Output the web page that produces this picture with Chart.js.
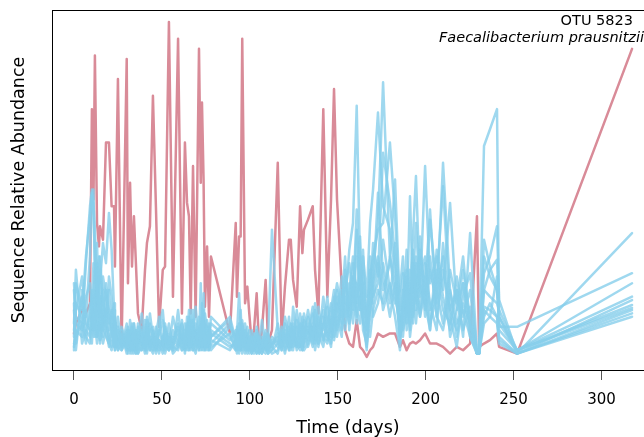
<!DOCTYPE html>
<html>
<head>
<meta charset="utf-8">
<script src="https://cdn.jsdelivr.net/npm/chart.js@4.4.1/dist/chart.umd.min.js"></script>
<style>
  html, body { margin: 0; padding: 0; background: #fff; }
  #wrap { width: 644px; height: 437px; }
</style>
</head>
<body>
<div id="wrap"><canvas id="otuChart" width="644" height="437"></canvas></div>
<script>
// sampling days (shared by all series)
const days = [
  0, 1.1, 4.6, 6.8, 9.1, 10.2, 11.1, 11.9, 13.1, 14.2,
  14.8, 16.5, 18.2, 19.9, 21.4, 22.8, 23.3, 25.0, 27.1, 30.0,
  30.7, 31.9, 33.0, 34.1, 35.3, 36.4, 38.5, 40.4, 41.5, 43.2,
  44.9, 46.6, 48.4, 50.5, 51.8, 54.0, 56.3, 59.2, 61.4, 63.1,
  64.3, 65.4, 66.4, 67.7, 69.2, 71.1, 72.1, 72.8, 73.7, 74.5,
  75.7, 76.8, 77.9, 88.7, 92.0, 92.7, 93.9, 94.8, 95.7, 97.3,
  98.6, 99.7, 101.1, 102.4, 103.9, 105.4, 106.9, 109.0, 110.4, 112.6,
  115.9, 118.1, 120.0, 122.3, 123.3, 124.6, 126.7, 128.6, 129.9, 130.8,
  133.1, 135.8, 137.1, 139.0, 141.8, 144.1, 146.2, 147.9, 149.6, 152.3,
  154.2, 156.6, 158.7, 160.8, 162.7, 164.4, 166.5, 168.4, 170.1, 172.9,
  175.8, 179.7, 182.6, 185.4, 187.1, 189.2, 191.1, 192.8, 194.5, 196.8,
  199.7, 202.5, 206.3, 209.9, 213.9, 217.7, 221.3, 225.3, 229.2, 230.4,
  233.2, 236.6, 240.6, 241.8, 252.0, 317.4
];

// OTU 5823 (Faecalibacterium prausnitzii)
const otu5823 = [
  7, 10, 14, 13, 16, 74, 47, 90, 40, 33,
  39, 35, 64, 64, 45, 45, 27, 83, 4, 89,
  22, 52, 27, 42, 27, 13, 8, 26, 34, 39,
  78, 45, 9, 26, 27, 100, 18, 95, 13, 64,
  46, 42, 13, 57, 12, 92, 52, 76, 53, 15,
  33, 12, 30, 7, 40, 18, 36, 36, 95, 16,
  21, 13, 4, 8, 19, 1.5, 8, 23, 4, 8,
  58, 6, 21, 35, 35, 23, 15, 45, 31, 38,
  41, 45, 26, 13, 74, 18, 47, 80, 47, 21,
  8, 4, 3, 11, 3, 2, 0, 2, 3, 7,
  6, 7, 7, 3, 5, 2, 4, 4.5, 4, 5,
  7, 4, 4, 3, 1, 3, 2, 4, 42, 3,
  4, 5, 7, 3, 1, 92
];

// other OTUs
const other1 = [
  8, 14, 24, 12, 30, 49, 46, 38, 20, 12,
  18, 9, 6, 4, 10, 3, 7, 2, 5, 3,
  8, 4, 2, 10, 5, 1, 6, 3, 9, 4,
  2, 7, 12, 4, 1, 5, 3, 8, 2, 6,
  10, 4, 14, 6, 2, 9, 5, 16, 8, 3,
  7, 4, 12, 6, 3, 8, 2, 5, 10, 4,
  2, 6, 1, 4, 7, 3, 1, 5, 2, 6,
  4, 9, 3, 12, 7, 5, 14, 6, 3, 8,
  10, 5, 14, 7, 3, 12, 8, 16, 22, 14,
  20, 28, 18, 30, 24, 12, 3, 15, 26, 40,
  82, 30, 22, 6, 14, 20, 8, 28, 18, 12,
  24, 10, 18, 30, 6, 14, 22, 10, 1, 1,
  20, 26, 29, 12, 1, 37
];
const other2 = [
  4, 6, 10, 18, 22, 14, 8, 12, 6, 10,
  5, 14, 8, 3, 6, 12, 4, 9, 2, 6,
  3, 11, 5, 2, 8, 4, 13, 6, 2, 10,
  5, 3, 9, 14, 6, 2, 8, 4, 10, 3,
  6, 12, 3, 8, 15, 4, 7, 2, 11, 5,
  3, 9, 6, 11, 4, 1, 7, 14, 3, 6,
  9, 3, 5, 2, 8, 4, 11, 2, 6, 3,
  7, 2, 10, 5, 3, 15, 6, 9, 4, 11,
  5, 13, 7, 4, 18, 9, 14, 20, 12, 24,
  16, 32, 40, 75, 28, 20, 8, 30, 18, 22,
  35, 20, 12, 2, 18, 26, 10, 32, 20, 14,
  28, 16, 8, 34, 12, 3, 18, 25, 1, 1,
  63, 68, 74, 9, 9, 25
];
const other3 = [
  20, 10, 8, 28, 45, 50, 42, 30, 16, 24,
  12, 20, 10, 6, 3, 8, 2, 4, 7, 1,
  5, 2, 7, 3, 1, 9, 4, 2, 6, 3,
  1, 4, 2, 6, 8, 3, 12, 5, 2, 4,
  9, 3, 6, 2, 5, 12, 4, 8, 19, 6,
  3, 10, 5, 2, 5, 3, 6, 2, 8, 1,
  4, 1, 3, 6, 2, 1, 4, 8, 3, 1,
  2, 5, 1, 7, 4, 2, 9, 3, 12, 5,
  8, 3, 16, 10, 6, 4, 11, 6, 14, 20,
  12, 18, 10, 22, 14, 30, 18, 40, 50, 73,
  45, 38, 26, 10, 8, 14, 20, 10, 30, 22,
  16, 30, 12, 8, 20, 10, 14, 6, 1, 1,
  14, 12, 24, 8, 2, 22
];
const other4 = [
  6, 22, 14, 30, 42, 48, 50, 22, 34, 14,
  26, 8, 14, 4, 2, 6, 10, 3, 2, 5,
  2, 6, 3, 1, 4, 7, 2, 5, 11, 2,
  6, 2, 5, 3, 10, 4, 2, 14, 4, 8,
  4, 7, 2, 11, 4, 3, 22, 6, 3, 10,
  5, 2, 8, 4, 2, 6, 10, 4, 3, 8,
  3, 5, 2, 1, 4, 6, 2, 1, 3, 4,
  6, 3, 8, 4, 10, 6, 3, 13, 5, 2,
  4, 9, 5, 12, 8, 15, 6, 10, 18, 12,
  24, 14, 28, 18, 36, 16, 10, 24, 30, 38,
  40, 64, 42, 14, 25, 10, 18, 24, 14, 32,
  20, 8, 26, 14, 10, 20, 8, 15, 1, 1,
  30, 24, 20, 10, 2, 18
];
const other5 = [
  14, 4, 18, 8, 12, 20, 10, 6, 24, 30,
  22, 34, 28, 43, 32, 14, 8, 5, 3, 8,
  4, 2, 6, 10, 3, 2, 8, 4, 1, 6,
  3, 9, 4, 1, 5, 7, 3, 2, 6, 3,
  2, 5, 9, 3, 1, 6, 3, 4, 2, 8,
  11, 6, 3, 7, 2, 4, 8, 3, 1, 4,
  6, 2, 8, 3, 1, 2, 6, 3, 1, 2,
  4, 7, 2, 5, 8, 3, 4, 10, 2, 6,
  14, 6, 10, 4, 12, 7, 3, 14, 8, 18,
  10, 22, 14, 38, 20, 26, 12, 18, 34, 24,
  61, 46, 30, 8, 12, 32, 14, 22, 40, 18,
  57, 22, 30, 18, 8, 24, 12, 20, 1, 1,
  25, 30, 39, 17, 1, 17
];
const other6 = [
  3, 8, 6, 14, 8, 10, 18, 26, 12, 20,
  30, 16, 12, 20, 8, 4, 2, 6, 9, 4,
  9, 3, 1, 5, 8, 3, 2, 7, 4, 13,
  6, 2, 7, 11, 3, 2, 5, 9, 3, 2,
  5, 14, 6, 2, 8, 4, 10, 3, 6, 13,
  8, 3, 2, 9, 6, 2, 4, 8, 5, 3,
  1, 4, 6, 2, 5, 3, 1, 4, 7, 2,
  10, 4, 6, 2, 6, 9, 4, 2, 7, 9,
  3, 8, 4, 15, 5, 10, 16, 8, 12, 6,
  26, 12, 20, 10, 30, 8, 4, 12, 22, 30,
  20, 28, 53, 14, 6, 18, 26, 12, 22, 30,
  12, 26, 16, 58, 20, 6, 16, 10, 1, 1,
  35, 27, 20, 12, 2, 15.5
];
const other7 = [
  10, 26, 4, 8, 6, 16, 28, 14, 10, 8,
  14, 6, 20, 10, 14, 8, 5, 12, 3, 7,
  1, 8, 4, 2, 6, 1, 3, 11, 5, 2,
  8, 4, 1, 6, 3, 10, 2, 4, 7, 1,
  12, 3, 5, 9, 3, 7, 2, 12, 4, 2,
  4, 7, 10, 5, 8, 4, 1, 6, 2, 10,
  5, 2, 3, 7, 1, 5, 2, 6, 4, 3,
  1, 6, 4, 9, 2, 7, 5, 3, 10, 3,
  6, 10, 2, 8, 14, 5, 9, 18, 6, 16,
  30, 8, 24, 14, 10, 22, 6, 26, 12, 16,
  28, 16, 34, 4, 20, 12, 48, 18, 10, 24,
  30, 14, 22, 51, 14, 8, 22, 6, 1, 1,
  20, 18, 16, 14, 2, 14.6
];
const other8 = [
  22, 12, 10, 4, 16, 8, 12, 20, 6, 16,
  8, 24, 18, 14, 6, 10, 3, 5, 6, 2,
  6, 1, 9, 4, 2, 5, 9, 2, 7, 5,
  4, 6, 3, 2, 9, 4, 6, 3, 11, 4,
  7, 2, 11, 4, 6, 2, 8, 5, 14, 4,
  2, 5, 7, 3, 4, 9, 3, 2, 6, 5,
  7, 3, 1, 5, 3, 2, 5, 3, 1, 5,
  3, 8, 5, 3, 6, 4, 11, 5, 8, 4,
  9, 4, 12, 6, 9, 18, 7, 12, 20, 10,
  14, 20, 30, 16, 24, 12, 2, 20, 16, 28,
  14, 22, 16, 20, 30, 8, 20, 36, 54, 20,
  16, 8, 32, 20, 46, 14, 26, 12, 1, 1,
  15, 14, 12, 6, 1, 14
];
const other9 = [
  2, 16, 12, 6, 4, 12, 6, 10, 4, 12,
  10, 4, 8, 24, 18, 6, 12, 2, 8, 3,
  3, 5, 2, 7, 3, 10, 5, 1, 4, 8,
  9, 1, 5, 3, 6, 2, 4, 10, 5, 2,
  3, 8, 4, 6, 10, 2, 5, 3, 7, 2,
  6, 2, 4, 10, 3, 7, 19, 10, 4, 6,
  2, 8, 4, 2, 6, 1, 3, 2, 5, 38,
  8, 3, 7, 2, 5, 10, 3, 6, 2, 7,
  12, 6, 9, 3, 10, 6, 12, 5, 10, 14,
  8, 16, 24, 12, 18, 10, 8, 14, 20, 49,
  24, 12, 22, 6, 10, 24, 6, 14, 28, 12,
  20, 44, 12, 26, 14, 20, 6, 37, 1, 1,
  12, 16, 12, 5, 1, 13
];
const other10 = [
  16, 2, 20, 10, 8, 4, 14, 8, 28, 6,
  4, 12, 22, 8, 12, 16, 4, 8, 3, 10,
  2, 7, 10, 3, 1, 4, 7, 3, 12, 6,
  2, 5, 8, 4, 2, 6, 1, 3, 6, 10,
  6, 2, 3, 14, 5, 8, 3, 10, 5, 3,
  9, 4, 6, 12, 5, 3, 5, 9, 11, 2,
  6, 4, 2, 3, 9, 4, 2, 7, 2, 4,
  5, 2, 12, 6, 3, 8, 2, 4, 6, 13,
  7, 15, 6, 10, 5, 9, 4, 11, 16, 8,
  18, 10, 16, 44, 14, 32, 10, 6, 14, 20,
  16, 30, 18, 10, 16, 22, 12, 28, 16, 36,
  14, 41, 20, 10, 26, 16, 30, 8, 1, 1,
  10, 12, 10, 4, 1, 12
];

const xTicks = [0, 50, 100, 150, 200, 250, 300];
const otherSeries = [other1, other2, other3, other4, other5, other6, other7, other8, other9, other10];

const toPoints = vals => days.map((d, i) => ({ x: d, y: vals[i] }));

const datasets = otherSeries.map(vals => ({
  data: toPoints(vals),
  borderColor: 'rgba(135, 206, 235, 0.8)',
  borderWidth: 2.5,
  pointRadius: 0,
  borderJoinStyle: 'round',
  borderCapStyle: 'round',
  order: 0
}));
datasets.push({
  data: toPoints(otu5823),
  borderColor: 'rgb(217, 139, 152)',
  borderWidth: 2.5,
  pointRadius: 0,
  borderJoinStyle: 'round',
  borderCapStyle: 'round',
  order: 1
});

// box around plot + label in the corner
const frameAndLabel = {
  id: 'frameAndLabel',
  afterDraw(chart) {
    const { ctx, chartArea } = chart;
    ctx.save();
    ctx.strokeStyle = '#000';
    ctx.lineWidth = 1;
    ctx.strokeRect(chartArea.left + 0.5, chartArea.top + 0.5,
      chartArea.right - chartArea.left + 2, chartArea.bottom - chartArea.top);
    ctx.fillStyle = '#000';
    ctx.textAlign = 'right';
    ctx.textBaseline = 'middle';
    ctx.font = '14.5px "DejaVu Sans"';
    ctx.fillText('OTU 5823', 633, 21);
    ctx.font = 'italic 14.5px "DejaVu Sans"';
    ctx.fillText('Faecalibacterium prausnitzii', 644, 38);
    ctx.restore();
  }
};

new Chart(document.getElementById('otuChart'), {
  type: 'line',
  data: { datasets },
  plugins: [frameAndLabel],
  options: {
    responsive: false,
    animation: false,
    devicePixelRatio: 1,
    layout: { padding: { top: 10, right: 0, left: 0, bottom: 0 } },
    plugins: { legend: { display: false }, tooltip: { enabled: false } },
    elements: { line: { tension: 0 } },
    scales: {
      x: {
        type: 'linear',
        min: -12.5,
        max: 324.2,
        afterBuildTicks: scale => { scale.ticks = xTicks.map(v => ({ value: v })); },
        afterFit: scale => { scale.height = 67; },
        border: { display: false },
        grid: { drawOnChartArea: false, drawTicks: true, tickLength: 10, color: '#555', lineWidth: 1 },
        ticks: { color: '#000', font: { family: 'DejaVu Sans', size: 15 }, padding: 11, maxRotation: 0 },
        title: {
          display: true, text: 'Time (days)', color: '#000',
          font: { family: 'DejaVu Sans', size: 17.5, lineHeight: 1 },
          padding: { top: 0, bottom: 0 }
        }
      },
      y: {
        min: -3.9,
        max: 103.6,
        afterFit: scale => { scale.width = 52; },
        border: { display: false },
        grid: { display: false },
        ticks: { display: false },
        title: {
          display: true, text: 'Sequence Relative Abundance', color: '#000',
          font: { family: 'DejaVu Sans', size: 17.5, lineHeight: 1 },
          padding: { top: 11, bottom: 0 }
        }
      }
    }
  }
});
</script>
</body>
</html>
